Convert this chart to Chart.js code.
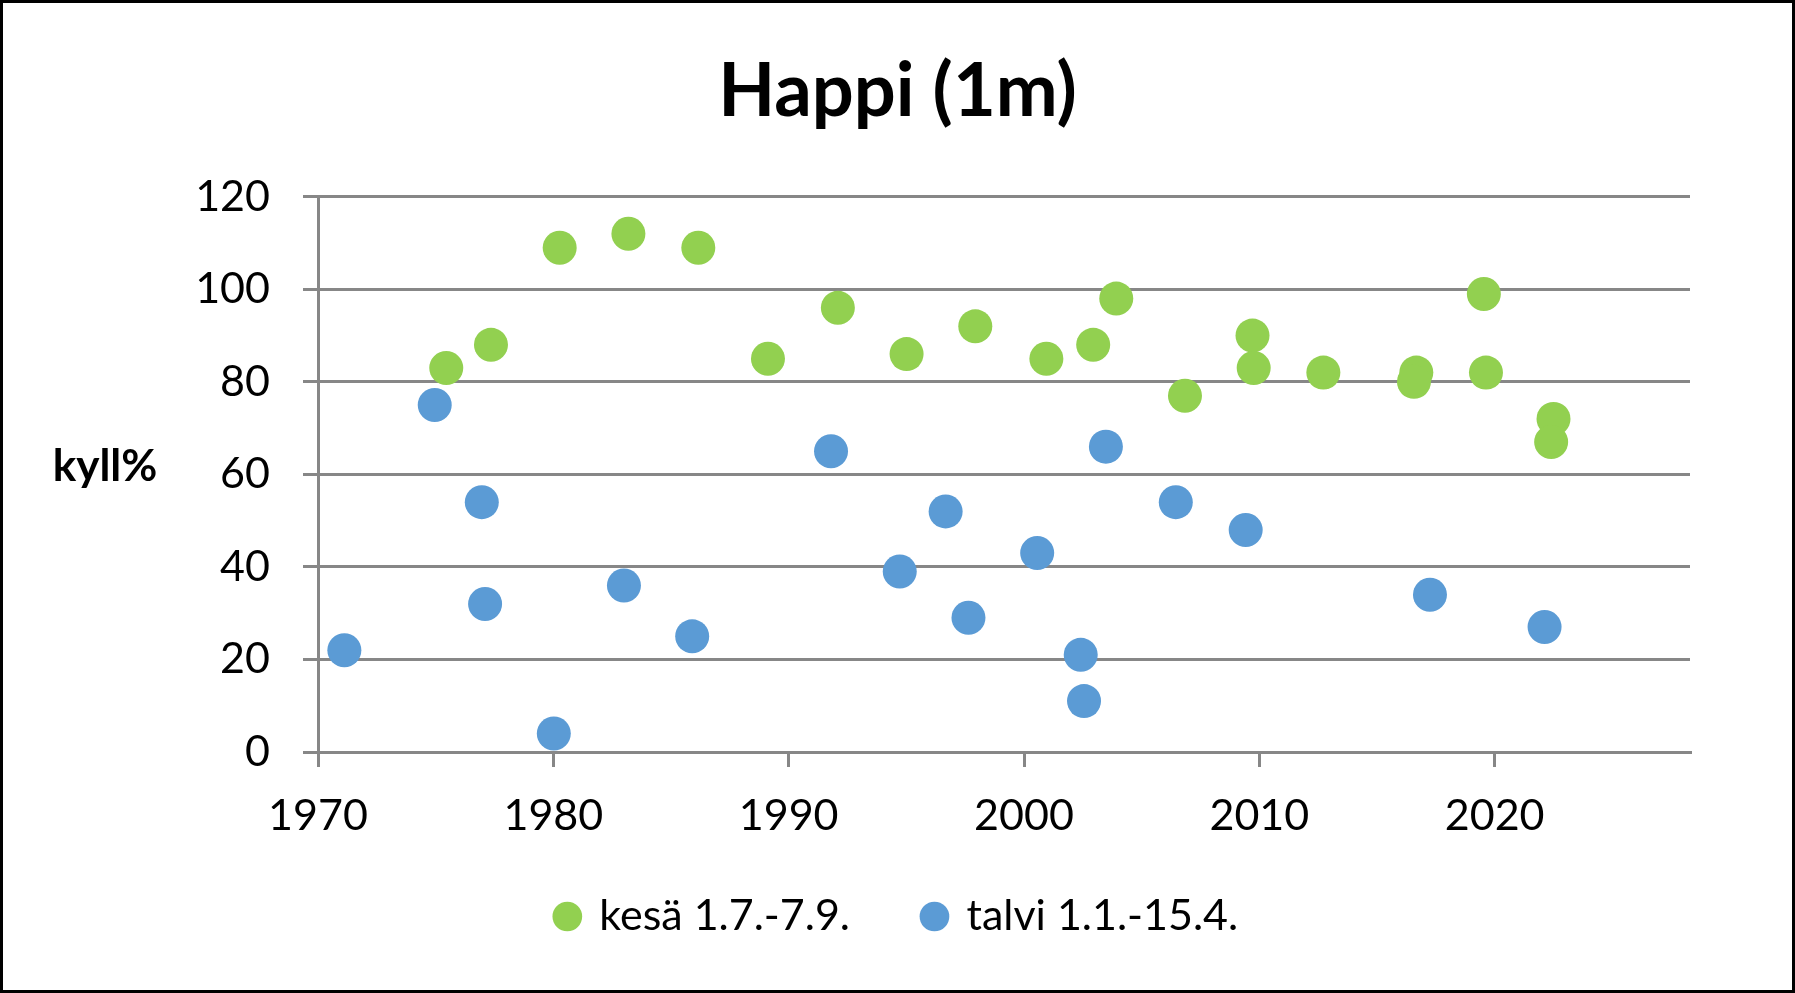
<!DOCTYPE html>
<html>
<head>
<meta charset="utf-8">
<script src="https://cdn.jsdelivr.net/npm/chart.js@4.4.1/dist/chart.umd.min.js"></script>
<style>
    html, body { margin: 0; padding: 0; background: #fff; }
    #frame { width: 1795px; height: 993px; box-sizing: border-box; border: 3px solid #000; background: #fff; }
    canvas { display: block; }
</style>
</head>
<body>
<div id="frame"><canvas id="happiChart" width="1789" height="987"></canvas></div>
<script>
    // kesä 1.7.-7.9. (vuosi, kyll%)
    const kesaYears = [1975.45, 1977.35, 1980.27, 1983.19, 1986.16, 1989.12, 1992.09, 1995.01, 1997.93, 2000.95, 2002.94,
        2003.92, 2006.84, 2009.71, 2009.76, 2012.72, 2016.67, 2016.57, 2019.54, 2019.63, 2022.5, 2022.4];
    const kesaValues = [83, 88, 109, 112, 109, 85, 96, 86, 92, 85, 88,
        98, 77, 90, 83, 82, 82, 80, 99, 82, 72, 67];

    // talvi 1.1.-15.4.
    const talviYears = [1971.12, 1974.96, 1976.96, 1977.1, 1980.02, 1983.0, 1985.9, 1991.8, 1994.72, 1996.67,
        1997.64, 2000.56, 2002.41, 2002.55, 2003.48, 2006.45, 2009.42, 2017.25, 2022.12];
    const talviValues = [22, 75, 54, 32, 4, 36, 25, 65, 39, 52,
        29, 43, 21, 11, 66, 54, 48, 34, 27];

    const xTickYears = [1970, 1980, 1990, 2000, 2010, 2020];
    const yTickValues = [0, 20, 40, 60, 80, 100, 120];

    const toPoints = (xs, ys) => xs.map((x, i) => ({x: x, y: ys[i]}));

    const gridColor = '#878787';
    Chart.defaults.font.family = 'Lato, "Open Sans", sans-serif';
    Chart.defaults.color = '#000';

    // pystyakselin otsikko vaakatasossa
    const yLabelPlugin = {
        id: 'yLabel',
        afterLayout(chart) {
            // x-akselin tekstit eivät saa leikkautua
            chart.scales.x.bottom = chart.scales.x.top + 95;
        },
        afterDraw(chart) {
            const ctx = chart.ctx;
            const y = chart.scales.y.getPixelForValue(60) + 7;
            ctx.save();
            ctx.font = 'bold 44px Lato, "Open Sans", sans-serif';
            ctx.fillStyle = '#000';
            ctx.textAlign = 'center';
            ctx.textBaseline = 'alphabetic';
            ctx.fillText('kyll%', 102, y);
            ctx.restore();
        }
    };

    new Chart(document.getElementById('happiChart'), {
        type: 'scatter',
        data: {
            datasets: [{
                label: 'kesä 1.7.-7.9.',
                data: toPoints(kesaYears, kesaValues),
                backgroundColor: '#92D050',
                borderColor: '#92D050',
                borderWidth: 0,
                pointRadius: 17,
                pointHoverRadius: 17,
                pointBorderWidth: 0,
                clip: false
            }, {
                label: 'talvi 1.1.-15.4.',
                data: toPoints(talviYears, talviValues),
                backgroundColor: '#5B9BD5',
                borderColor: '#5B9BD5',
                borderWidth: 0,
                pointRadius: 17,
                pointHoverRadius: 17,
                pointBorderWidth: 0,
                clip: false
            }]
        },
        options: {
            responsive: false,
            animation: false,
            layout: {
                padding: {left: 0, right: 0, top: 0, bottom: 42}
            },
            plugins: {
                title: {
                    display: true,
                    text: 'Happi (1m)',
                    color: '#000',
                    font: {size: 74, weight: 'bold'},
                    padding: {top: 45, bottom: 60}
                },
                legend: {
                    position: 'bottom',
                    labels: {
                        usePointStyle: true,
                        pointStyle: 'circle',
                        boxWidth: 21,
                        boxHeight: 21,
                        padding: 74,
                        color: '#000',
                        font: {size: 43}
                    }
                },
                tooltip: {enabled: false}
            },
            scales: {
                x: {
                    type: 'linear',
                    min: 1970,
                    max: 2028.3,
                    afterBuildTicks: (scale) => {
                        scale.ticks = xTickYears.map(v => ({value: v}));
                    },
                    afterFit: (scale) => {
                        scale.height = 69;
                    },
                    ticks: {
                        padding: 23,
                        font: {size: 43},
                        color: '#000',
                        callback: (value) => String(value)
                    },
                    grid: {
                        drawOnChartArea: false,
                        drawTicks: true,
                        tickLength: 15,
                        color: gridColor,
                        lineWidth: 3
                    },
                    border: {display: true, color: gridColor, width: 3}
                },
                y: {
                    min: 0,
                    max: 120,
                    afterBuildTicks: (scale) => {
                        scale.ticks = yTickValues.map(v => ({value: v}));
                    },
                    afterFit: (scale) => {
                        scale.width = 315;
                    },
                    ticks: {
                        padding: 33,
                        font: {size: 43},
                        color: '#000'
                    },
                    grid: {
                        drawTicks: true,
                        tickLength: 15,
                        color: gridColor,
                        lineWidth: 3
                    },
                    border: {display: true, color: gridColor, width: 3}
                },
                // tyhjä tila oikealla, jotta otsikko ja selite keskittyvät koko kuvaan
                yRight: {
                    position: 'right',
                    min: 0,
                    max: 120,
                    afterFit: (scale) => {
                        scale.width = 102;
                    },
                    ticks: {display: false},
                    grid: {display: false},
                    border: {display: false}
                }
            }
        },
        plugins: [yLabelPlugin]
    });
</script>
</body>
</html>
